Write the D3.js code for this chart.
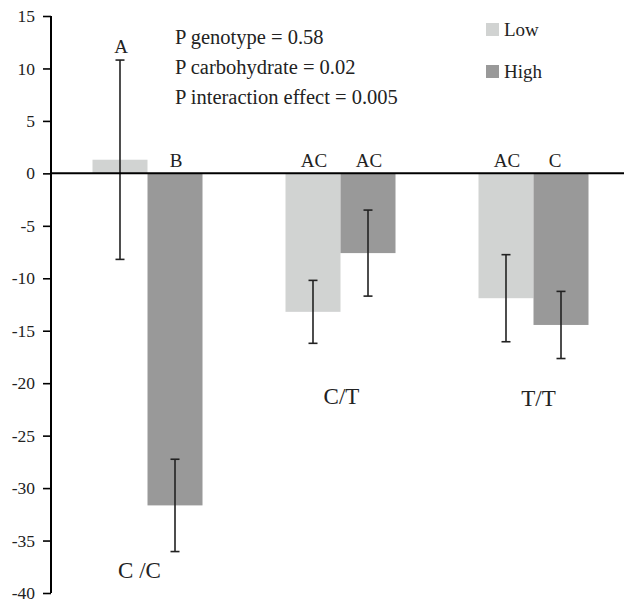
<!DOCTYPE html>
<html>
<head>
<meta charset="utf-8">
<script src="https://cdn.jsdelivr.net/npm/d3@7"></script>
<style>
  html, body { margin: 0; padding: 0; background: #fff; }
</style>
</head>
<body>
<div id="chart"></div>
<script>
// ── Data ────────────────────────────────────────────────────────────────
const genotypes = ["C /C", "C/T", "T/T"];
const series = ["Low", "High"];
const lowMeans  = [1.3, -13.2, -11.9];
const lowErr    = [9.5, 3.0, 4.15];
const highMeans = [-31.65, -7.6, -14.45];
const highErr   = [4.4, 4.1, 3.2];
const lowLetters  = ["A", "AC", "AC"];
const highLetters = ["B", "AC", "C"];
const genoLabelY  = [-38.6, -22.0, -22.2];
const yTicks = [15, 10, 5, 0, -5, -10, -15, -20, -25, -30, -35, -40];
const notes = ["P genotype = 0.58", "P carbohydrate = 0.02", "P interaction effect = 0.005"];

// ── Palette & fonts ─────────────────────────────────────────────────────
const LOW_C  = "#d1d3d2";
const HIGH_C = "#999999";
const INK    = "#222";
const SERIF  = '"Liberation Serif"';

const W = 624, H = 604;
const svg = d3.select("#chart").append("svg")
  .attr("width", W).attr("height", H);

const axisX = 51;
const y = d3.scaleLinear().domain([-40, 15]).range([593, 16]);

const x = d3.scaleBand()
  .domain(genotypes)
  .range([axisX, axisX + 579])
  .paddingInner(0.43)
  .paddingOuter(0.215);

const xs = d3.scaleBand().domain(series).range([0, x.bandwidth()]);

const rows = genotypes.flatMap((g, i) => [
  { g, s: "Low",  v: lowMeans[i],  e: lowErr[i],  letter: lowLetters[i],  color: LOW_C },
  { g, s: "High", v: highMeans[i], e: highErr[i], letter: highLetters[i], color: HIGH_C }
]);
const cx = d => x(d.g) + xs(d.s) + xs.bandwidth() / 2;

// Bars
svg.selectAll(".bar").data(rows).enter().append("rect")
  .attr("x", d => x(d.g) + xs(d.s))
  .attr("y", d => y(Math.max(0, d.v)))
  .attr("width", xs.bandwidth())
  .attr("height", d => Math.abs(y(d.v) - y(0)))
  .attr("fill", d => d.color);

// Error bars
const eb = svg.selectAll(".err").data(rows).enter().append("g")
  .attr("transform", d => `translate(${cx(d)},0)`)
  .attr("stroke", INK).attr("stroke-width", 1.6);
eb.append("line").attr("y1", d => y(d.v + d.e)).attr("y2", d => y(d.v - d.e));
eb.append("line").attr("x1", -4.5).attr("x2", 4.5).attr("y1", d => y(d.v + d.e)).attr("y2", d => y(d.v + d.e));
eb.append("line").attr("x1", -4.5).attr("x2", 4.5).attr("y1", d => y(d.v - d.e)).attr("y2", d => y(d.v - d.e));

// Letters (significance groups)
svg.selectAll(".letter").data(rows).enter().append("text")
  .attr("x", d => cx(d) + (d.letter === "C" ? -6 : 1))
  .attr("y", d => d.v > 0 ? y(d.v + d.e) - 7 : y(0) - 6)
  .attr("text-anchor", "middle")
  .style("font-family", SERIF).style("font-size", "19px").attr("fill", INK)
  .text(d => d.letter);

// Zero line
svg.append("line")
  .attr("x1", axisX).attr("x2", W)
  .attr("y1", y(0)).attr("y2", y(0))
  .attr("stroke", "#000").attr("stroke-width", 2);

// Y axis
const yAxis = svg.append("g")
  .attr("transform", `translate(${axisX},0)`)
  .call(d3.axisLeft(y).tickValues(yTicks).tickSize(8).tickPadding(8).tickFormat(d => String(d)));
yAxis.attr("font-family", null);
yAxis.select(".domain").attr("stroke", "#000").attr("stroke-width", 2)
  .attr("d", `M0,${y(15)}V${y(-40)}`);
yAxis.selectAll(".tick line").attr("stroke", "#000").attr("stroke-width", 1.6);
yAxis.selectAll(".tick text")
  .style("font-family", SERIF)
  .style("font-size", "17.5px").attr("fill", INK);

// Genotype labels
svg.selectAll(".geno").data(genotypes).enter().append("text")
  .attr("x", (d, i) => x(d) + x.bandwidth() / 2 + [-8, 1, 5][i])
  .attr("y", (d, i) => y(genoLabelY[i]))
  .attr("text-anchor", "middle")
  .style("font-family", SERIF).style("font-size", "23px").attr("fill", INK)
  .text(d => d);

// Notes
svg.selectAll(".note").data(notes).enter().append("text")
  .attr("x", 175)
  .attr("y", (d, i) => 44 + i * 30)
  .style("font-family", SERIF).style("font-size", "20.5px").attr("fill", INK)
  .text(d => d);

// Legend
const leg = svg.selectAll(".leg").data(series).enter().append("g")
  .attr("transform", (d, i) => `translate(486,${23 + i * 42})`);
leg.append("rect").attr("width", 13).attr("height", 13)
  .attr("fill", d => d === "Low" ? LOW_C : HIGH_C);
leg.append("text").attr("x", 18).attr("y", 13)
  .style("font-family", SERIF).style("font-size", "19px").attr("fill", INK)
  .text(d => d);
</script>
</body>
</html>
